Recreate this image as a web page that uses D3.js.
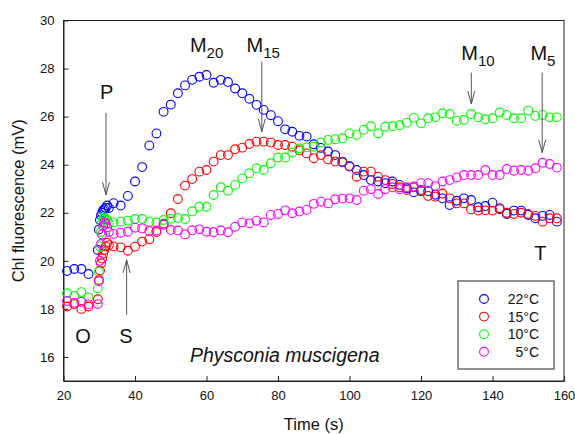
<!DOCTYPE html>
<html><head><meta charset="utf-8">
<script src="https://cdn.jsdelivr.net/npm/d3@7"></script>
<style>body{margin:0;background:#fff}svg{display:block}text{font-family:"Liberation Sans",Arial,sans-serif}</style>
</head><body><svg id="c" width="575" height="434"></svg>
<script>
const times = [21,23,25,27,29.6,29.9,30.2,30.5,30.8,31.1,31.4,31.8,32.2,32.7,
34,36,38,40,42,44,46,48,50,52,54,56,58,60,62,64,66,68,70,72,74,76,78,80,82,84,86,88,90,92,94,96,98,100,
102,104,106,108,110,112,114,116,118,120,122,124,126,128,130,132,134,136,138,140,142,144,146,148,150,152,154,156,158];
const seriesNames = ["22°C","15°C","10°C","5°C"];
const seriesColors = ["#0000ff","#ff0000","#00ff00","#ff00ff"];
const v22 = [19.58,19.66,19.66,19.45,20.45,21.3,21.7,21.9,22.0,22.1,22.15,22.2,22.3,22.2,
22.4,22.3,22.7,23.3,23.9,24.8,25.3,26.2,26.5,26.97,
27.3,27.53,27.66,27.73,27.41,27.53,27.44,27.17,26.97,26.74,
26.49,26.28,26.06,25.81,25.47,25.37,25.2,25.17,24.85,24.7,
24.55,24.4,24.1,23.92,23.78,23.57,23.36,23.3,23.23,23.3,
23.16,23.02,22.85,22.9,22.9,22.75,22.6,22.32,22.5,22.6,
22.53,22.23,22.28,22.42,22.15,21.95,22.09,22.09,21.91,21.77,
21.87,21.91,21.63];
const v15 = [18.1,18.2,18.0,18.1,18.4,19.2,19.6,19.9,20.1,20.3,20.45,20.6,20.75,20.65,
20.6,20.56,20.42,20.59,20.8,20.9,21.2,21.55,21.98,22.57,
23.13,23.4,23.71,23.78,24.13,24.4,24.4,24.64,24.71,24.86,
24.96,24.96,24.92,24.82,24.82,24.75,24.6,24.47,24.27,24.4,
24.22,24.13,24.13,23.95,23.5,23.71,23.71,23.5,23.36,23.2,
23.06,22.95,23.06,22.95,22.7,22.67,22.8,22.6,22.39,22.39,
22.14,22.09,22.1,22.09,22.19,22.0,21.95,22.0,21.95,21.87,
21.63,21.77,21.77];
const v10 = [18.65,18.54,18.7,18.48,18.85,19.55,20.6,21.2,21.6,21.75,21.8,21.75,21.7,21.55,
21.6,21.63,21.67,21.74,21.74,21.63,21.6,21.7,21.75,21.78,
21.74,22.06,22.25,22.25,22.74,23.06,22.92,23.16,23.43,23.64,
23.85,23.78,24.06,24.3,24.3,24.5,24.68,24.72,24.75,24.92,
25.03,25.06,25.1,25.3,25.24,25.45,25.6,25.3,25.58,25.6,
25.64,25.75,25.95,25.72,25.93,25.97,26.14,26.11,25.83,25.86,
26.11,25.97,25.89,25.93,26.17,26.07,25.93,25.93,26.25,26.03,
26.07,25.97,25.97];
const v5 = [18.33,18.26,18.3,18.19,18.2,19.15,20.0,20.7,21.1,21.45,21.6,21.55,21.4,21.2,
21.12,21.17,21.21,21.38,21.35,21.24,21.26,21.5,21.28,21.26,
21.1,21.27,21.31,21.21,21.19,21.26,21.19,21.42,21.6,21.56,
21.67,21.6,21.91,21.95,22.1,21.98,22.05,22.12,22.37,22.46,
22.39,22.56,22.59,22.6,22.53,22.92,22.98,22.78,22.98,23.06,
22.98,23.06,23.09,23.23,23.23,23.11,23.3,23.36,23.47,23.57,
23.57,23.57,23.78,23.57,23.57,23.82,23.75,23.78,23.75,23.85,
24.08,24.03,23.88];
const xTicks = [20,40,60,80,100,120,140,160];
const yTicks = [16,18,20,22,24,26,28,30];
// annotations in data units: [text, subscript, t, value]
const labels = [["P","",32.07,26.72],["O","",25.45,16.59],["S","",37.46,16.59],["T","",153.4,20.04],
  ["M","20",55.35,28.7],["M","15",71.2,28.7],["M","10",131.27,28.36],["M","5",150.6,28.36]];
// arrows: [t, fromValue, toValue]
const arrows = [[31.88,26.15,22.74],[37.66,17.75,20.04],[75.47,28.29,25.37],[134.07,27.83,26.53],[153.9,27.83,24.5]];

const svg = d3.select("#c");
const L=63.5, R=564, T=20.5, B=381;
const x = d3.scaleLinear().domain([20,160]).range([L,R]);
const y = d3.scaleLinear().domain([15,30]).range([B,T]);
const axCol="#222";

svg.append("rect").attr("x",L).attr("y",T).attr("width",R-L).attr("height",B-T)
  .attr("fill","none").attr("stroke",axCol).attr("stroke-width",1);

const gx = svg.append("g").attr("transform",`translate(0,${B})`)
  .call(d3.axisBottom(x).tickValues(xTicks).tickSizeInner(-5).tickSizeOuter(0).tickPadding(10));
const gy = svg.append("g").attr("transform",`translate(${L},0)`)
  .call(d3.axisLeft(y).tickValues(yTicks).tickSizeInner(-5).tickSizeOuter(0).tickPadding(9));
[gx,gy].forEach(g=>{g.select(".domain").attr("stroke",axCol);
  g.selectAll(".tick line").attr("stroke",axCol);
  g.selectAll(".tick text").attr("font-size",13).attr("fill","#111").attr("font-family","Liberation Sans, Arial, sans-serif");});

svg.append("text").attr("transform",`translate(24,${(T+B)/2}) rotate(-90)`).attr("text-anchor","middle")
  .attr("font-size",16.5).attr("fill","#111").text("Chl fluorescence (mV)");
svg.append("text").attr("x",(L+R)/2).attr("y",430).attr("text-anchor","middle")
  .attr("font-size",16.5).attr("fill","#111").text("Time (s)");

const series = [v22,v15,v10,v5];
series.forEach((vals,i)=>{
  svg.append("g").selectAll("circle").data(vals.map((v,j)=>[times[j],v])).join("circle")
    .attr("cx",d=>x(d[0])).attr("cy",d=>y(d[1])).attr("r",4.4)
    .attr("fill","none").attr("stroke",seriesColors[i]).attr("stroke-width",1.1);
});

// arrows
const ac="#555";
arrows.forEach(a=>{
  const g=svg.append("g").attr("stroke",ac).attr("stroke-width",1).attr("fill","none");
  const xx=x(a[0]), y0=y(a[1]), y1=y(a[2]);
  const dir = y1>y0?1:-1;
  g.append("line").attr("x1",xx).attr("x2",xx).attr("y1",y0).attr("y2",y1);
  g.append("path").attr("d",`M${xx-3.5},${y1-dir*13}L${xx},${y1}L${xx+3.5},${y1-dir*13}`);
});

labels.forEach(l=>{
  const t=svg.append("text").attr("x",x(l[2])).attr("y",y(l[3])).attr("font-size",20).attr("fill","#111")
    .attr("text-anchor",l[1]?"start":"middle");
  t.append("tspan").text(l[0]);
  if(l[1]) t.append("tspan").attr("font-size",15).attr("dy",6).text(l[1]);
});
svg.append("text").attr("x",x(55.35)).attr("y",y(15.81)).attr("font-size",19.5).attr("font-style","italic")
  .attr("fill","#111").text("Physconia muscigena");

// legend
const lg = svg.append("g");
lg.append("rect").attr("x",458).attr("y",281).attr("width",96).attr("height",88)
  .attr("fill","#fff").attr("stroke","#555").attr("stroke-width",1.3);
seriesNames.forEach((n,i)=>{
  const yy = 299 + i*17.6;
  lg.append("circle").attr("cx",484).attr("cy",yy).attr("r",4.4).attr("fill","none").attr("stroke",seriesColors[i]).attr("stroke-width",1.1);
  lg.append("text").attr("x",539).attr("y",yy).attr("dy","0.35em").attr("text-anchor","end").attr("font-size",14).attr("fill","#111").text(n);
});
</script></body></html>
